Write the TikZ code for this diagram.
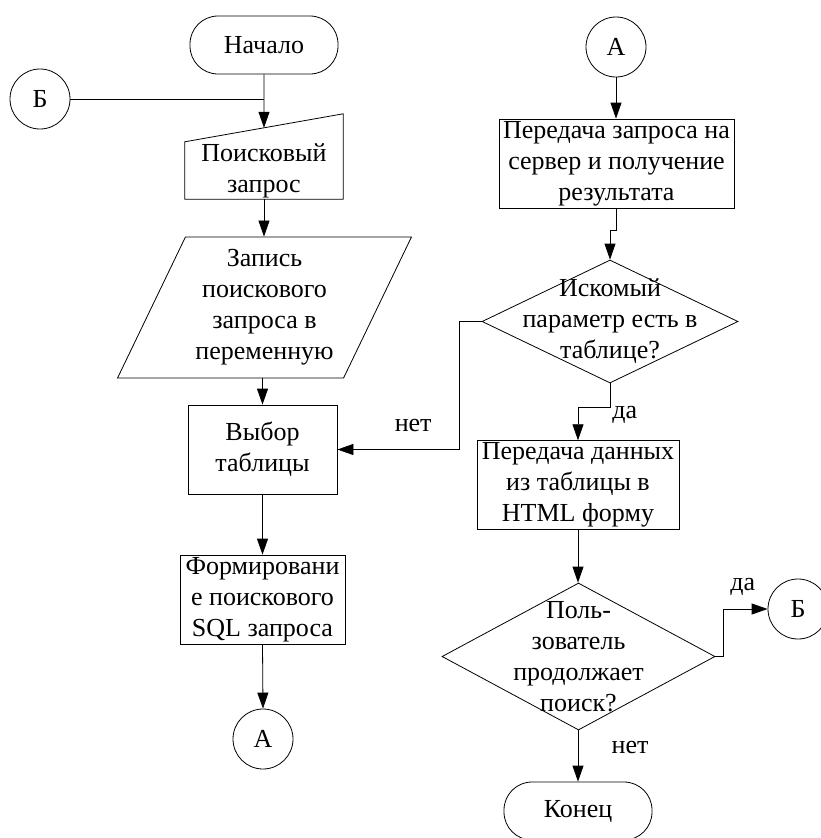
\documentclass[tikz,border=0pt]{standalone}
\usepackage{fontspec}
\setmainfont{Liberation Serif}
\usetikzlibrary{arrows.meta,shapes.geometric,calc}
\tikzset{
  base/.style={draw,line width=0.8pt,align=center,inner sep=2pt},
  terminal/.style={base,rounded corners=28pt,minimum width=148pt,minimum height=58pt},
  process/.style={base,rectangle},
  connector/.style={base,circle,minimum size=60pt,inner sep=0pt},
  decision/.style={base,diamond,inner sep=0pt},
  io/.style={base,trapezium,trapezium left angle=63,trapezium right angle=117,trapezium stretches=true},
  flow/.style={line width=0.8pt,-{Triangle[length=16pt,width=11pt]}}
}

\begin{document}
\begin{tikzpicture}[x=1pt,y=-1pt,every node/.style={font=\fontsize{26}{31}\selectfont}]
    \useasboundingbox (0,0) rectangle (820,838);
    \node[terminal] (start) at (264,45) {Начало};
    \node[connector] (bL) at (40,99) {Б};
    \node[align=center,minimum width=158pt,minimum height=57pt,inner sep=0pt] (inp) at (264,170.5) {Поисковый\\запрос};
    \draw[line width=0.8pt] (inp.north west) -- (inp.south west) -- (inp.south east) -- ($(inp.north east)+(0,-28)$) -- cycle;
    \coordinate (inptop) at ($(inp.north west)!0.5!(inp.north east)+(0,-14)$);
    \node[io,minimum width=295pt,minimum height=141pt] (rec) at (264.5,307.5) {Запись\\поискового\\запроса в\\переменную};
    \node[process,minimum width=149pt,minimum height=89pt] (sel) at (262.5,449.5) {Выбор\\таблицы};
    \node[process,minimum width=165pt,minimum height=89pt] (sql) at (262.5,599.5) {Формировани\\е поискового\\SQL запроса};
    \node[connector] (aL) at (263,739) {А};

    \node[connector] (aR) at (616,47) {А};
    \node[process,minimum width=235pt,minimum height=89pt] (send) at (616.5,163.5) {Передача запроса на\\сервер и получение\\результата};
    \node[decision,minimum width=256pt,minimum height=123pt,
          label={[align=center]center:{Искомый\\параметр есть в\\таблице?}}] (chk) at (610,321.5) {};
    \node[process,minimum width=202pt,minimum height=88pt] (html) at (578,485) {Передача данных\\из таблицы в\\HTML форму};
    \node[decision,minimum width=273pt,minimum height=147pt,
          label={[align=center]center:{Поль-\\зователь\\продолжает\\поиск?}}] (more) at (578.5,656.5) {};
    \node[connector] (bR) at (798,609) {Б};
    \node[terminal] (stop) at (578,811) {Конец};

    \draw[flow] (start.south) -- (inptop);
    \draw[line width=0.8pt] (bL.east) -- (bL.east -| start.south);
    \draw[flow] (inp.south) -- (inp.south |- rec.north);
    \draw[flow] (rec.south -| sel.north) -- (sel.north);
    \draw[flow] (sel.south) -- (sql.north);
    \draw[flow] (sql.south) -- (aL.north);
    \draw[flow] (aR.south) -- (aR.south |- send.north);
    \draw[flow] (send.south) -- ++(0,22) -| (chk.north);
    \draw[flow] (chk.west) -- ++(-22,0) |- (sel.east) node[pos=0.69,above=14pt] {нет};
    \draw[flow] (chk.south) -- ++(0,24) node[anchor=north west,inner sep=2pt,yshift=4pt] {да} -| (html.north);
    \draw[flow] (html.south) -- (html.south |- more.north);
    \draw[flow] (more.east) -- ++(8,0) |- (bR.west) node[pos=0.72,above=10pt] {да};
    \draw[flow] (more.south -| stop.north) -- (stop.north) node[pos=0.33,right=30pt] {нет};
  \end{tikzpicture}
\end{document}
